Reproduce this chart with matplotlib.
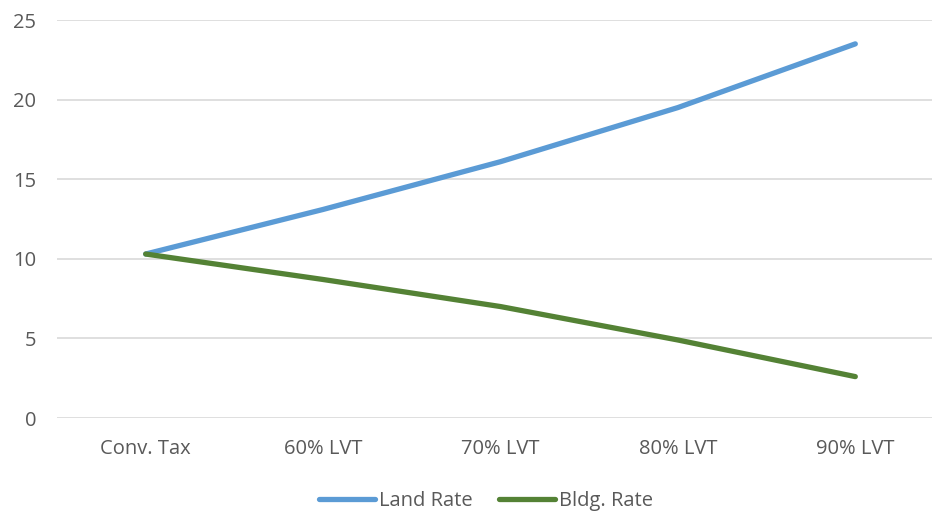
import matplotlib.pyplot as plt

categories = ["Conv. Tax", "60% LVT", "70% LVT", "80% LVT", "90% LVT"]
land_rate = [10.3, 13.1, 16.1, 19.5, 23.5]
bldg_rate = [10.3, 8.7, 7.0, 4.9, 2.6]

plt.rcParams["font.family"] = ["Open Sans", "DejaVu Sans"]
text_color = "#595959"
fs = 14.5

fig = plt.figure(figsize=(9.32, 5.13), dpi=100)
# plot area runs off the right edge a little
ax = fig.add_axes([57 / 932, 1 - 418 / 513, 887 / 932, 398 / 513])

x = range(len(categories))
ax.plot(x, land_rate, color="#5B9BD5", lw=3.8, solid_capstyle="round",
        label="Land Rate", zorder=3)
ax.plot(x, bldg_rate, color="#548235", lw=3.8, solid_capstyle="round",
        label="Bldg. Rate", zorder=3)

ax.set_xlim(-0.5, len(categories) - 0.5)
ax.set_ylim(0, 25)
ax.set_yticks(range(0, 26, 5))
ax.set_xticks(list(x))
ax.set_xticklabels(categories)

ax.grid(axis="y", color="#d9d9d9", lw=1.2)
ax.set_axisbelow(True)
for s in ax.spines.values():
    s.set_visible(False)
ax.tick_params(length=0, labelsize=fs, colors=text_color)
ax.tick_params(axis="x", pad=15)
ax.tick_params(axis="y", pad=15)

leg = fig.legend(loc="center", bbox_to_anchor=(486 / 932, 1 - 501 / 513), ncol=2,
                 frameon=False, fontsize=fs, handlelength=2.8, handletextpad=0.2,
                 columnspacing=1.3)
for t in leg.get_texts():
    t.set_color(text_color)

fig.savefig("out.png", dpi=100)
